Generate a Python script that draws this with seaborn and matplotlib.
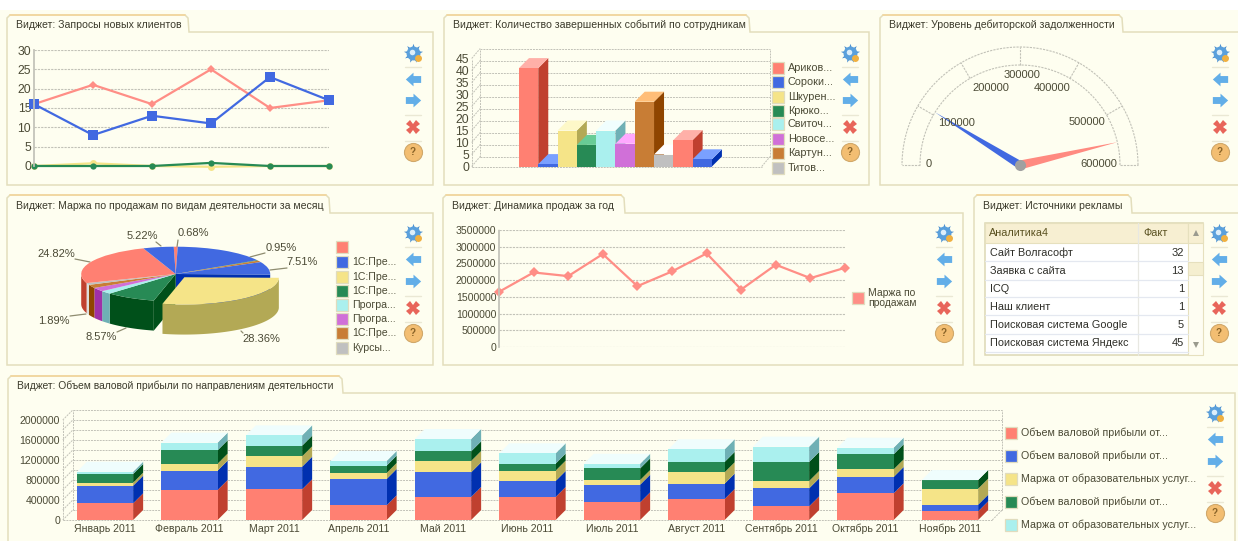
import numpy as np
import matplotlib
matplotlib.use("Agg")
import matplotlib.pyplot as plt
from matplotlib.patches import Rectangle, Polygon
import seaborn as sns

# ---------------- data ----------------
req_idx = [0, 1, 2, 3, 4, 5]
req_red = [16, 21, 16, 25, 15, 17]
req_blue = [16, 8, 13, 11, 23, 17]
req_yellow = [0, 0.7, 0, -0.2, 0, 0]
req_green = [0, 0, 0, 0.8, 0, 0]
req_ticks = [0, 5, 10, 15, 20, 25, 30]

ev_vals = [41, 1, 15, 9, 15, 9.5, 27, 5, 11, 3]
ev_ticks = [0, 5, 10, 15, 20, 25, 30, 35, 40, 45]
ev_names = ["Ариков...", "Сороки...", "Шкурен...", "Крюко...", "Свиточ...", "Новосе...", "Картун...", "Титов..."]

gauge_ticks = [0, 100000, 200000, 300000, 400000, 500000, 600000]
gauge_blue = 106000
gauge_red = 556000

pie_vals = [0.68, 16.2, 0.3, 0.95, 7.51, 28.36, 8.57, 1.89, 2.3, 2.0, 1.1, 24.82, 5.22]
pie_names = ["", "1С:Пре...", "1С:Пре...", "1С:Пре...", "Програ...", "Програ...", "1С:Пре...", "Курсы..."]
pie_shown = [5.22, 0.68, 0.95, 7.51, 24.82, 1.89, 8.57, 28.36]

sales_idx = list(range(11))
sales = [1650000, 2230000, 2120000, 2780000, 1820000, 2260000, 2800000, 1720000, 2460000, 2060000, 2370000]
sales_ticks = [0, 500000, 1000000, 1500000, 2000000, 2500000, 3000000, 3500000]

ads_names = ["Сайт Волгасофт", "Заявка с сайта", "ICQ", "Наш клиент", "Поисковая система Google", "Поисковая система Яндекс"]
ads_fact = [32, 13, 1, 1, 5, 45]

months = ["Январь 2011", "Февраль 2011", "Март 2011", "Апрель 2011", "Май 2011", "Июнь 2011",
          "Июль 2011", "Август 2011", "Сентябрь 2011", "Октябрь 2011", "Ноябрь 2011"]
s1 = [333000, 600000, 613000, 293000, 460000, 460000, 353000, 420000, 273000, 533000, 173000]
s2 = [353000, 387000, 453000, 527000, 493000, 320000, 353000, 307000, 360000, 327000, 133000]
s3 = [60000, 140000, 207000, 120000, 227000, 207000, 93000, 227000, 147000, 153000, 320000]
s4 = [173000, 267000, 213000, 147000, 193000, 140000, 233000, 207000, 380000, 300000, 173000]
s5 = [47000, 153000, 207000, 93000, 247000, 207000, 93000, 253000, 307000, 133000, 0]
stack_ticks = [0, 400000, 800000, 1200000, 1600000, 2000000]
stack_names = ["Объем валовой прибыли от...", "Объем валовой прибыли от...", "Маржа от образовательных услуг...",
               "Объем валовой прибыли от...", "Маржа от образовательных услуг..."]
titles = ["Виджет: Запросы новых клиентов", "Виджет: Количество завершенных событий по сотрудникам",
          "Виджет: Уровень дебиторской задолженности", "Виджет: Маржа по продажам по видам деятельности за месяц",
          "Виджет: Динамика продаж за год", "Виджет: Источники рекламы",
          "Виджет: Объем валовой прибыли по направлениям деятельности"]

# ---------------- style ----------------
W, H = 1238, 541
CREAM = "#FEFEF0"
BORDER = "#E3DEBC"
TXT = "#4B4A35"
GRID = "#C2C2B8"
RED, BLUE, YEL, GRN, CYA, PUR, ORA, GRY = ("#FF8072", "#4169E1", "#F5E488", "#278A55",
                                           "#AAF0EE", "#D070D8", "#C87D35", "#C0C0C0")
PAL = [RED, BLUE, YEL, GRN, CYA, PUR, ORA, GRY]
SIDE = {RED: "#C0402F", BLUE: "#0030B0", YEL: "#B3A955", GRN: "#00501A", CYA: "#6FB0B5",
        PUR: "#A030A8", ORA: "#8F4500", GRY: "#DDDDDD"}
TOP = {RED: "#FFB0A8", BLUE: "#7AA0FF", YEL: "#FDF8C8", GRN: "#68CC96", CYA: "#F0FEFE",
       PUR: "#FFA8FF", ORA: "#FFBE78", GRY: "#FFFFFF"}

sns.set_theme(style="white")
plt.rcParams["font.family"] = ["Liberation Sans", "DejaVu Sans"]
plt.rcParams["font.size"] = 7.5

fig = plt.figure(figsize=(W / 100, H / 100), dpi=100, facecolor=CREAM)


def axpx(x0, y0, x1, y1, z=2):
    ax = fig.add_axes([x0 / W, 1 - y1 / H, (x1 - x0) / W, (y1 - y0) / H], zorder=z)
    ax.patch.set_alpha(0)
    return ax


ov = axpx(0, 0, W, H, z=1)
ov.set_xlim(0, W)
ov.set_ylim(H, 0)
ov.axis("off")
ov.add_patch(Rectangle((0, 0), W, 10, color="white", lw=0))


def panel(x0, x1, y0, y1, tab_top, tab_r, title, title_y, size=7.55):
    pts = [(x0, y1), (x0, tab_top + 3), (x0 + 3, tab_top), (tab_r - 4, tab_top),
           (tab_r - 1, tab_top + 3), (tab_r, y0), (x1, y0), (x1, y1), (x0, y1)]
    ov.add_patch(Polygon(pts, closed=True, fc=CREAM, ec=BORDER, lw=1.1))
    ov.plot([x0 + 3, tab_r - 4], [tab_top, tab_top], color="#F3D69C", lw=1.2)
    ov.text(x0 + 9, title_y, title, fontsize=size, color="#3C3B2C", va="center", ha="left")


panel(7, 433, 32, 185, 15, 189, titles[0], 25)
panel(444, 869, 32, 185, 15, 750, titles[1], 25)
panel(880, 1245, 32, 185, 15, 1123, titles[2], 25)
panel(7, 433, 213, 365, 195, 330, titles[3], 206)
panel(443, 963, 213, 365, 195, 625, titles[4], 206)
panel(974, 1245, 213, 365, 195, 1132, titles[5], 206)
panel(8, 1235, 393, 560, 376, 343, titles[6], 386, size=7.4)

arrow_l = [(-1, 0), (0, .9), (0, .45), (1, .45), (1, -.45), (0, -.45), (0, -.9)]
arrow_r = [(-x, y) for x, y in arrow_l]


def icons(x, ys):
    g, l, r, c, q = ys
    ov.plot(x, g, marker=(9, 1, 0), ms=14, color="#4A8FD0", mew=0)
    ov.plot(x, g, marker="o", ms=10, color="#5AA0DC", mew=0)
    ov.plot(x - 1, g - 1, marker="o", ms=4, color="#DCEEFA", mew=0)
    ov.plot(x + 4.5, g + 4.5, marker="o", ms=5, color="#F0B040", mew=0)
    ov.plot(x, l, marker=arrow_l, ms=11, color="#62AEE8", mew=0)
    ov.plot(x, r, marker=arrow_r, ms=11, color="#62AEE8", mew=0)
    ov.plot(x, c, marker="X", ms=10, color="#E8655A", mew=0)
    ov.plot(x, q, marker="o", ms=13, mfc="#F3BE72", mec="#D0A86A", mew=0.8)
    ov.text(x, q + .3, "?", fontsize=7, color="#8A6428", ha="center", va="center", fontweight="bold")
    for yy in [(g + l) / 2 + 1, (r + c) / 2 + 1, (c + q) / 2 + 1]:
        ov.plot([x - 8, x + 8], [yy, yy], color="#EAE8D4", lw=1)


for ix in (413, 850, 1220):
    icons(ix, (53, 79, 100, 127, 152))
for ix in (413, 944, 1219):
    icons(ix, (233, 259, 281, 308, 333))
icons(1215, (413, 439, 461, 488, 513))


def legend(x, ys, names, cols, size=7.5, sw=12):
    for yy, nm, c in zip(ys, names, cols):
        ov.add_patch(Rectangle((x, yy - sw / 2), sw, sw, fc=c, ec="#E0DCBE", lw=0.9))
        ov.text(x + sw + 4, yy, nm, fontsize=size, color=TXT, ha="left", va="center")


def style(ax, ticks, size=7.5):
    ax.set_yticks(ticks)
    ax.set_xlabel("")
    ax.set_ylabel("")
    ax.tick_params(axis="y", length=0, pad=2, labelsize=size, labelcolor=TXT)
    for s in ax.spines.values():
        s.set_visible(False)


def flat_axes(ax):
    ax.set_xticks([])
    ax.yaxis.grid(True, ls=(0, (2, 1)), color=GRID, lw=0.8)
    ax.set_axisbelow(True)
    ax.spines["left"].set_visible(True)
    ax.spines["left"].set_linestyle((0, (1, 1)))
    ax.spines["left"].set_color(GRID)


# ---------------- chart 1: lines ----------------
a1 = axpx(34, 50, 329, 166)
kw = dict(ax=a1, errorbar=None, clip_on=False, lw=1.6, mew=0)
sns.lineplot(x=req_idx, y=req_red, color="#FF8E86", marker="D", ms=4.5, **kw)
sns.lineplot(x=req_idx, y=req_blue, color=BLUE, marker="s", ms=6.5, **kw)
sns.lineplot(x=req_idx, y=req_yellow, color="#F5E488", marker="o", ms=5, **kw)
sns.lineplot(x=req_idx, y=req_green, color=GRN, marker="o", ms=4.5, **kw)
a1.set_xlim(0, 5)
a1.set_ylim(0, 30)
style(a1, req_ticks, 8.8)
flat_axes(a1)


# ---------------- pseudo-3D helpers ----------------
def walls(ax, x0, x1, levels, dx, dy):
    st = dict(color=GRID, lw=0.7, ls=(0, (2, 1)), clip_on=False, zorder=0.5)
    for v in levels:
        ax.plot([x0 + dx, x1 + dx], [v + dy, v + dy], **st)
        ax.plot([x0, x0 + dx], [v, v + dy], **st)
    top = levels[-1]
    ax.plot([x0, x0], [0, top], **st)
    ax.plot([x0 + dx, x0 + dx], [dy, top + dy], **st)
    ax.plot([x1 + dx, x1 + dx], [dy, top + dy], **st)
    ax.plot([x0, x1], [0, 0], **st)
    ax.plot([x1, x1 + dx], [0, dy], **st)


def box3d(ax, patch, col, dx, dy, z, draw_top=True, top_col=None):
    x, y, w, h = patch.get_x(), patch.get_y(), patch.get_width(), patch.get_height()
    ax.fill([x + w, x + w + dx, x + w + dx, x + w], [y, y + dy, y + h + dy, y + h],
            color=SIDE[col], lw=0, clip_on=False, zorder=z)
    if draw_top:
        ax.fill([x, x + dx, x + w + dx, x + w], [y + h, y + h + dy, y + h + dy, y + h],
                color=top_col or TOP[col], lw=0, clip_on=False, zorder=z)
    patch.set_zorder(z + 0.5)
    patch.set_clip_on(False)


# ---------------- chart 2: 3D bars ----------------
a2 = axpx(471.7, 58.5, 761.7, 166.5)
ev_x = list(range(len(ev_vals)))
ev_cols = [PAL[i % 8] for i in ev_x]
sns.barplot(x=ev_x, y=ev_vals, hue=ev_x, palette=ev_cols, legend=False, dodge=False, width=1,
            saturation=1, ax=a2, linewidth=0, errorbar=None)
bars = sorted(a2.patches, key=lambda p: p.get_x())
dx2, dy2 = 10 / 19.3, 10 / 2.4
for i, (p, c) in enumerate(zip(bars, ev_cols)):
    box3d(a2, p, c, dx2, dy2, 2 + i)
a2.set_xlim(-2.95, 12.08)
a2.set_ylim(0, 45)
style(a2, ev_ticks, 8.8)
a2.set_xticks([])
walls(a2, -2.95, 12.08, ev_ticks, 8.5 / 19.3, dy2)
legend(772, [67.7, 81.7, 96.7, 110.7, 124.3, 138.7, 153.3, 167.7], ev_names, PAL, 7.8)

# ---------------- chart 3: gauge ----------------
a3 = axpx(890, 40, 1150, 175)
a3.set_xlim(-130, 130)
a3.set_ylim(-10, 125)
a3.axis("off")
to_ang = lambda v: np.deg2rad(180 - v / max(gauge_ticks) * 180)
rin, rout = 100, 118
st = dict(color=GRID, lw=0.8, ls=(0, (2, 1)))
th = np.linspace(0, np.pi, 200)
a3.plot(rin * np.cos(th), rin * np.sin(th), **st)
a3.plot(rout * np.cos(th), rout * np.sin(th), **st)
for v in gauge_ticks:
    t = to_ang(v)
    a3.plot([rin * np.cos(t), rout * np.cos(t)], [rin * np.sin(t), rout * np.sin(t)], **st)
gauge_pos = [(-91, 1), (-63, 42), (-29, 77), (2, 90), (32, 77), (67, 43), (79, 1)]
for v, (gx, gy) in zip(gauge_ticks, gauge_pos):
    a3.text(gx, gy, str(v), fontsize=8, color=TXT, ha="center", va="center")


def needle(v, col, width):
    t = to_ang(v)
    tip = (100 * np.cos(t), 100 * np.sin(t))
    n = (np.sin(t) * width, -np.cos(t) * width)
    a3.add_patch(Polygon([tip, (n[0], n[1]), (-n[0], -n[1])], fc=col, lw=0))


needle(gauge_blue, BLUE, 4)
needle(gauge_red, "#FF8A80", 4.5)
a3.plot(0, 0, marker="o", ms=8, color="#A0A0A0", mew=0)

# ---------------- chart 4: 3D pie ----------------
a4 = axpx(43.4, 204, 308, 344)
pie_cols = [RED, BLUE, GRN, ORA, BLUE, YEL, GRN, CYA, PUR, ORA, GRY, RED, BLUE]
explode = [0.15 if c == YEL else 0 for c in pie_cols]
wedges, _ = a4.pie(pie_vals, colors=pie_cols, startangle=91.2, counterclock=False, explode=explode,
                   wedgeprops=dict(linewidth=0))
a4.set_aspect("auto")
a4.set_xlim(-1.4, 1.4)
a4.set_ylim(-2.564, 2.564)
D = 1.1
for wd, c in zip(wedges, pie_cols):
    cx, cy = wd.center
    t = np.deg2rad(np.linspace(wd.theta1, wd.theta2, 80))
    mask = np.sin(t) < 0.02
    wd.set_zorder(5)
    if mask.any():
        xs = cx + np.cos(t[mask])
        ys = cy + np.sin(t[mask])
        a4.fill(np.r_[xs, xs[::-1]], np.r_[ys, ys[::-1] - D], color=SIDE[c], lw=0,
                zorder=3 if c == YEL else 2)
for idx, attr in ((4, "theta1"), (6, "theta2")):
    wd = wedges[idx]
    t = np.deg2rad(getattr(wd, attr))
    ex, ey = np.cos(t), np.sin(t)
    a4.fill([0, ex, ex, 0], [0, ey, ey - D, -D], color=SIDE[pie_cols[idx]], lw=0, zorder=1.5)
a4.set_zorder(2)

pie_lab_pos = [(142, 236), (193, 233), (281, 248), (302, 262), (56, 254), (54, 321), (101, 337), (261, 339)]
pie_leads = [((156, 242), (161, 246)), ((178, 240), (177, 247)), ((265, 253), (250, 257)),
             ((287, 268), (270, 270)), ((75, 259), (90, 262)), ((70, 316), (86, 314)),
             ((117, 332), (126, 328)), ((243, 333), (241, 331))]
for v, (lx, ly), (p0, p1) in zip(pie_shown, pie_lab_pos, pie_leads):
    ov.text(lx, ly, f"{v:.2f}%", fontsize=8, color=TXT, ha="center", va="center")
    ov.plot([p0[0], p1[0]], [p0[1], p1[1]], color="#8E8C70", lw=0.9, zorder=5)
legend(336, [247, 262, 277, 291, 305, 319, 333, 348], pie_names, PAL, 7.6)

# ---------------- chart 5: sales line ----------------
a5 = axpx(499, 230, 845, 347)
sns.lineplot(x=sales_idx, y=sales, color="#FF8E86", marker="D", ms=5, mew=0, lw=1.6, errorbar=None,
             clip_on=False, ax=a5)
a5.set_xlim(0, 10)
a5.set_ylim(0, 3500000)
style(a5, sales_ticks, 7.6)
flat_axes(a5)
a5.ticklabel_format(style="plain", axis="y")
ov.add_patch(Rectangle((852, 292), 12, 12, fc="#FF8E86", ec="#E0DCBE", lw=0.9))
ov.text(868, 298, "Маржа по\nпродажам", fontsize=7.5, color=TXT, va="center", ha="left", linespacing=1.1)

# ---------------- table ----------------
ov.add_patch(Rectangle((985, 223), 218, 132, fc="white", ec="#DDD8B4", lw=1.1))
ov.add_patch(Rectangle((985, 223), 203, 20, fc="#F7EFD2", ec="#E6E0BE", lw=0.8))
ov.add_patch(Rectangle((1188, 223), 15, 132, fc="#FEFDF2", ec="#E6E0BE", lw=0.8))
ov.add_patch(Rectangle((1188, 223), 15, 20, fc="#F7EFD2", ec="#E6E0BE", lw=0.8))
ov.add_patch(Rectangle((1188, 262), 15, 13, fc="#F5EFD0", ec="#E6E0BE", lw=0.8))
ov.plot(1195.5, 233, marker="^", ms=5, color="#9A9A8E", mew=0)
ov.plot(1195.5, 345, marker="v", ms=5, color="#9A9A8E", mew=0)
ov.plot([1138, 1138], [223, 355], color="#E8E8E2", lw=0.9)
ov.text(989, 233, "Аналитика4", fontsize=7.8, color="#5A5120", va="center")
ov.text(1143, 233, "Факт", fontsize=7.8, color="#5A5120", va="center")
row_y = [252.7, 271, 288.7, 306.7, 325, 343]
for yy, nm, v in zip(row_y, ads_names, ads_fact):
    ov.text(990, yy, nm, fontsize=7.8, color="#2E2E28", va="center")
    ov.text(1184, yy, str(v), fontsize=8, color="#2E2E28", va="center", ha="right")
    ov.plot([985, 1188], [yy + 8.5, yy + 8.5], color="#E4E8F0", lw=0.9)

# ---------------- chart 7: stacked 3D bars ----------------
a7 = axpx(62.75, 410, 992.25, 520)
layers = [s1, s2, s3, s4, s5]
cols7 = [RED, BLUE, YEL, GRN, CYA]
bottom = np.zeros(len(months))
dx7, dy7 = 10 / 84.5, 200000
for li, (vals, c) in enumerate(zip(layers, cols7)):
    n0 = len(a7.patches)
    sns.barplot(x=months, y=vals, bottom=bottom, color=c, saturation=1, width=0.666, ax=a7,
                errorbar=None, linewidth=0)
    for p in a7.patches[n0:]:
        box3d(a7, p, c, dx7, dy7, 3 + li, draw_top=(li == len(layers) - 1), top_col="#EFFDFD")
    bottom = bottom + np.array(vals)
a7.set_xlim(-0.5, 10.5)
a7.set_ylim(0, 2200000)
style(a7, stack_ticks, 7.6)
a7.tick_params(axis="x", length=0, pad=8.6, labelsize=7.6, labelcolor=TXT)
for lab in a7.get_xticklabels():
    lab.set_verticalalignment("baseline")
a7.ticklabel_format(style="plain", axis="y")
walls(a7, -0.5, 10.5, list(range(0, 2000001, 200000)), dx7, dy7)
legend(1005, [432.7, 455.7, 478.7, 502, 525], stack_names, cols7, 7.7)

fig.savefig("out.png", dpi=100, facecolor=CREAM)
